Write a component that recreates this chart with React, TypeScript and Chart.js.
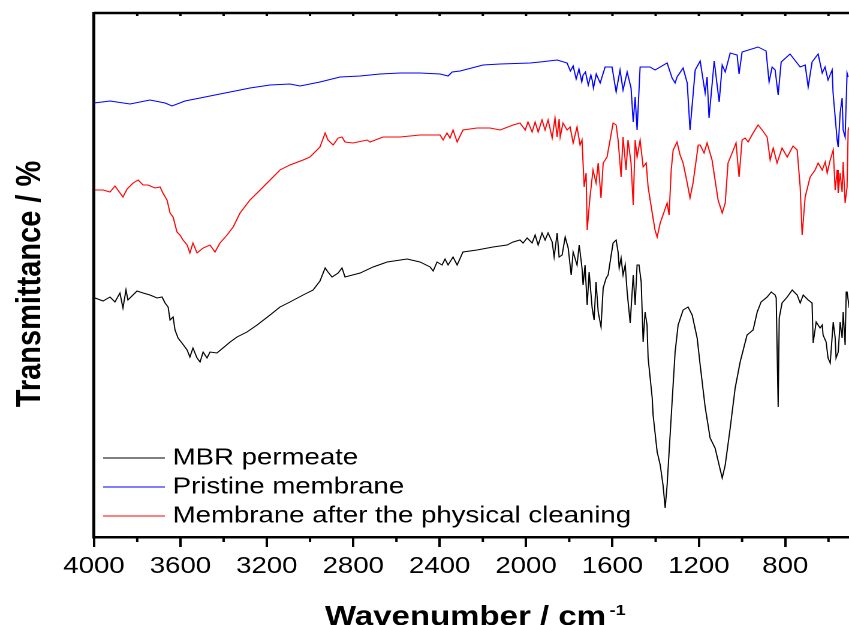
import React, { useEffect, useRef } from "react";
import { Chart, registerables } from "chart.js";

Chart.register(...registerables);

// ---------------- data ----------------
const tickValues = [4000, 3600, 3200, 2800, 2400, 2000, 1600, 1200, 800];
const minorTickValues = [3800, 3400, 3000, 2600, 2200, 1800, 1400, 1000, 600];

const seriesLabels = ["MBR permeate", "Pristine membrane", "Membrane after the physical cleaning"];
const seriesColors = ["#000000", "#0000ff", "#ff0000"];
const yTitle = "Transmittance / %";
const xTitle = "Wavenumber / cm";
const xTitleSup = "-1";

const mbrWavenumber = [
  3995, 3958, 3926, 3903, 3880, 3866, 3852, 3843, 3801, 3773,
  3741, 3708, 3685, 3671, 3657, 3648, 3634, 3625, 3611, 3593,
  3569, 3556, 3542, 3523, 3509, 3495, 3477, 3463, 3431, 3403,
  3370, 3338, 3292, 3245, 3185, 3139, 3093, 3032, 2986, 2954,
  2930, 2917, 2898, 2870, 2852, 2838, 2768, 2708, 2643, 2551,
  2491, 2444, 2430, 2412, 2389, 2375, 2361, 2338, 2319, 2292,
  2227, 2153, 2088, 2060, 2028, 2014, 1995, 1972, 1958, 1944,
  1926, 1912, 1898, 1879, 1870, 1856, 1847, 1833, 1819, 1805,
  1791, 1782, 1764, 1754, 1741, 1736, 1727, 1717, 1708, 1694,
  1685, 1676, 1666, 1653, 1643, 1629, 1620, 1606, 1597, 1583,
  1574, 1569, 1560, 1551, 1541, 1532, 1518, 1504, 1495, 1486,
  1477, 1467, 1458, 1449, 1440, 1435, 1416, 1412, 1393, 1379,
  1366, 1356, 1347, 1324, 1310, 1296, 1273, 1250, 1231, 1208,
  1194, 1171, 1148, 1125, 1092, 1078, 1055, 1032, 1009, 977,
  949, 930, 912, 884, 865, 847, 842, 833, 828, 815,
  791, 768, 745, 731, 717, 694, 676, 671, 657, 639,
  629, 625, 611, 602, 592, 578, 569, 565, 555, 546,
  537, 532, 523, 518, 514, 504,
];
const mbrT = [
  239, 236, 240, 235, 244, 229, 247, 237, 246, 244,
  242, 239, 240, 234, 230, 217, 220, 207, 199, 194,
  187, 180, 189, 179, 175, 185, 179, 185, 184, 189,
  195, 200, 205, 212, 222, 230, 235, 242, 247, 256,
  269, 265, 260, 264, 269, 260, 264, 270, 275, 278,
  275, 270, 266, 275, 272, 278, 272, 280, 272, 285,
  287, 290, 292, 295, 297, 294, 299, 294, 302, 292,
  304, 297, 304, 295, 280, 304, 280, 282, 300, 289,
  262, 285, 272, 292, 269, 252, 272, 232, 265, 229,
  217, 255, 225, 210, 249, 259, 262, 282, 294, 297,
  285, 269, 279, 262, 272, 245, 214, 262, 232, 272,
  272, 255, 195, 225, 212, 179, 139, 122, 85, 72,
  52, 29, 52, 135, 185, 212, 227, 230, 222, 199,
  172, 130, 99, 89, 59, 72, 109, 149, 175, 202,
  207, 225, 235, 240, 245, 242, 239, 130, 219, 234,
  240, 247, 242, 234, 242, 237, 234, 194, 215, 209,
  212, 202, 195, 179, 174, 215, 199, 179, 185, 215,
  199, 225, 192, 245, 245, 229,
];

const pristineWavenumber = [
  4000, 3926, 3833, 3741, 3671, 3639, 3579, 3509, 3440, 3370,
  3278, 3185, 3093, 3046, 2954, 2861, 2768, 2676, 2583, 2491,
  2398, 2361, 2342, 2305, 2199, 2120, 1981, 1935, 1856, 1810,
  1795, 1782, 1768, 1755, 1742, 1736, 1725, 1712, 1700, 1694,
  1688, 1675, 1657, 1634, 1602, 1583, 1565, 1551, 1532, 1514,
  1504, 1495, 1486, 1472, 1426, 1403, 1347, 1324, 1310, 1301,
  1273, 1254, 1241, 1217, 1194, 1171, 1162, 1153, 1129, 1106,
  1092, 1078, 1055, 1023, 1014, 1000, 926, 889, 875, 861,
  847, 833, 819, 778, 731, 708, 694, 676, 648, 629,
  616, 602, 583, 579, 560, 555, 546, 537, 532, 523,
  514, 509,
];
const pristineT = [
  434, 436, 433, 437, 434, 431, 436, 439, 442, 445,
  449, 452, 453, 451, 455, 460, 461, 463, 464, 464,
  463, 461, 465, 466, 472, 473, 474, 475, 477, 474,
  466, 471, 458, 468, 455, 462, 465, 452, 462, 457,
  449, 463, 454, 470, 470, 445, 467, 447, 465, 449,
  415, 440, 407, 470, 470, 467, 474, 459, 454, 460,
  469, 454, 407, 467, 476, 444, 460, 419, 476, 435,
  472, 465, 484, 482, 463, 485, 490, 486, 455, 470,
  467, 442, 475, 483, 470, 472, 450, 475, 483, 464,
  470, 457, 467, 445, 397, 390, 424, 439, 407, 400,
  464, 460,
];

const cleanedWavenumber = [
  3995, 3958, 3926, 3903, 3866, 3847, 3819, 3796, 3773, 3750,
  3718, 3694, 3681, 3662, 3648, 3634, 3616, 3602, 3588, 3569,
  3556, 3542, 3523, 3495, 3463, 3440, 3417, 3384, 3356, 3324,
  3278, 3231, 3185, 3139, 3093, 3032, 3000, 2954, 2930, 2917,
  2893, 2870, 2852, 2838, 2801, 2736, 2722, 2662, 2583, 2491,
  2398, 2384, 2366, 2352, 2338, 2319, 2292, 2227, 2167, 2120,
  2060, 2028, 2004, 1991, 1972, 1958, 1944, 1926, 1912, 1898,
  1879, 1866, 1856, 1847, 1842, 1829, 1810, 1796, 1782, 1764,
  1750, 1741, 1731, 1722, 1717, 1704, 1690, 1676, 1666, 1653,
  1643, 1625, 1611, 1597, 1583, 1574, 1560, 1551, 1537, 1528,
  1514, 1504, 1495, 1486, 1472, 1458, 1444, 1435, 1416, 1403,
  1393, 1379, 1366, 1347, 1338, 1328, 1319, 1301, 1287, 1273,
  1254, 1241, 1227, 1203, 1194, 1176, 1162, 1139, 1125, 1111,
  1092, 1078, 1065, 1046, 1028, 1014, 1000, 986, 972, 949,
  926, 907, 884, 870, 856, 838, 815, 791, 764, 745,
  731, 722, 708, 685, 662, 648, 629, 615, 606, 592,
  578, 569, 560, 555, 546, 537, 532, 523, 514, 509, 504,
];
const cleanedT = [
  347, 347, 345, 351, 340, 348, 354, 357, 352, 352,
  349, 350, 344, 337, 324, 320, 305, 302, 297, 292,
  284, 294, 284, 289, 292, 285, 294, 302, 310, 324,
  337, 347, 357, 367, 372, 377, 380, 390, 404, 397,
  392, 399, 400, 395, 394, 397, 395, 400, 400, 402,
  402, 397, 404, 399, 407, 395, 407, 409, 409, 407,
  412, 414, 407, 415, 405, 415, 405, 417, 407, 417,
  399, 419, 400, 418, 400, 414, 407, 410, 394, 410,
  392, 397, 350, 364, 307, 340, 367, 354, 374, 339,
  374, 380, 397, 414, 412, 397, 360, 400, 367, 397,
  374, 332, 397, 380, 397, 370, 374, 350, 324, 307,
  300, 314, 322, 334, 322, 367, 387, 395, 382, 374,
  354, 339, 354, 392, 392, 384, 394, 377, 357, 337,
  324, 334, 374, 384, 394, 360, 397, 399, 395, 404,
  412, 407, 400, 377, 389, 374, 389, 380, 391, 387,
  350, 302, 340, 360, 367, 374, 367, 375, 364, 377,
  387, 347, 367, 344, 364, 345, 375, 334, 350, 407, 410,
];

// ---------------- layout ----------------
const PAGE_W = 849;
const PAGE_H = 625;
const CANVAS_W = 708;
const STRETCH = PAGE_W / CANVAS_W;
const FONT = '"Liberation Sans", Arial, Helvetica, sans-serif';

const toPoints = (xs: number[], ys: number[]) => xs.map((x, i) => ({ x, y: ys[i] }));

const decorPlugin = {
  id: "decor",
  afterDraw(chart: any) {
    const { ctx, chartArea: a } = chart;
    const x = chart.scales.x;
    ctx.save();
    ctx.strokeStyle = "#000";
    // top frame line
    ctx.lineWidth = 2.5;
    ctx.beginPath();
    ctx.moveTo(a.left, a.top);
    ctx.lineTo(a.right, a.top);
    ctx.stroke();
    // minor bottom ticks + small top ticks
    ctx.lineWidth = 2;
    ctx.beginPath();
    for (const v of minorTickValues) {
      const px = x.getPixelForValue(v);
      ctx.moveTo(px, a.bottom);
      ctx.lineTo(px, a.bottom + 5);
    }
    for (const v of [...tickValues, ...minorTickValues]) {
      const px = x.getPixelForValue(v);
      ctx.moveTo(px, a.top);
      ctx.lineTo(px, a.top + 3);
    }
    ctx.stroke();

    // legend
    const rowsY = [458, 487, 516];
    chart.data.datasets.forEach((ds: any, i: number) => {
      const y = rowsY[i];
      ctx.strokeStyle = ds.borderColor;
      ctx.lineWidth = 1;
      ctx.beginPath();
      ctx.moveTo(86, y);
      ctx.lineTo(137.5, y);
      ctx.stroke();
      ctx.fillStyle = "#000";
      ctx.font = `23px ${FONT}`;
      ctx.textAlign = "left";
      ctx.textBaseline = "middle";
      ctx.fillText(ds.label, 144, y);
    });

    // y-axis title
    ctx.save();
    ctx.translate(25.4, 284);
    ctx.rotate(-Math.PI / 2);
    ctx.fillStyle = "#000";
    ctx.font = `bold 29px ${FONT}`;
    ctx.textAlign = "center";
    ctx.textBaseline = "middle";
    ctx.fillText(yTitle, 0, 0);
    ctx.restore();

    // x-axis title with superscript
    ctx.fillStyle = "#000";
    ctx.textAlign = "left";
    ctx.textBaseline = "alphabetic";
    ctx.font = `bold 27.5px ${FONT}`;
    const tx = 271;
    ctx.fillText(xTitle, tx, 625);
    const w = ctx.measureText(xTitle).width;
    ctx.font = `bold 15px ${FONT}`;
    ctx.fillText(xTitleSup, tx + w + 3, 615);
    ctx.restore();
  },
};

export default function App() {
  const ref = useRef<HTMLCanvasElement | null>(null);

  useEffect(() => {
    document.body.style.margin = "0";
    if (!ref.current) return;
    const chart = new Chart(ref.current, {
      type: "line",
      data: {
        datasets: [
          { label: seriesLabels[0], data: toPoints(mbrWavenumber, mbrT), borderColor: seriesColors[0] },
          { label: seriesLabels[1], data: toPoints(pristineWavenumber, pristineT), borderColor: seriesColors[1] },
          { label: seriesLabels[2], data: toPoints(cleanedWavenumber, cleanedT), borderColor: seriesColors[2] },
        ].map((d) => ({ ...d, borderWidth: 1, pointRadius: 0, tension: 0, fill: false })),
      },
      options: {
        animation: false,
        responsive: false,
        devicePixelRatio: 2,
        events: [],
        layout: { padding: { top: 13, left: 0, right: 0, bottom: 0 } },
        plugins: { legend: { display: false }, tooltip: { enabled: false } },
        scales: {
          x: {
            type: "linear",
            reverse: true,
            min: 505,
            max: 4000,
            afterBuildTicks: (s: any) => {
              s.ticks = tickValues.map((v) => ({ value: v }));
            },
            afterFit: (s: any) => {
              s.height = PAGE_H - 537;
            },
            ticks: {
              color: "#000",
              font: { size: 23, family: FONT },
              padding: 6,
              maxRotation: 0,
              autoSkip: false,
              callback: (v: any) => String(v),
            },
            grid: {
              display: true,
              drawOnChartArea: false,
              drawTicks: true,
              tickLength: 10,
              tickWidth: 2,
              tickColor: "#000",
            },
            border: { display: true, width: 2.5, color: "#000" },
          },
          y: {
            min: 0,
            max: 524,
            afterFit: (s: any) => {
              s.width = 94 / STRETCH;
            },
            ticks: { display: false },
            grid: { display: false, drawTicks: false },
            border: { display: true, width: 2.5, color: "#000" },
            title: { display: false },
          },
        },
      },
      plugins: [decorPlugin],
    } as any);
    return () => chart.destroy();
  }, []);

  return (
    <div
      style={{
        width: CANVAS_W,
        height: PAGE_H,
        transform: `scaleX(${STRETCH})`,
        transformOrigin: "0 0",
      }}
    >
      <canvas ref={ref} width={CANVAS_W} height={PAGE_H} style={{ display: "block" }} />
    </div>
  );
}
